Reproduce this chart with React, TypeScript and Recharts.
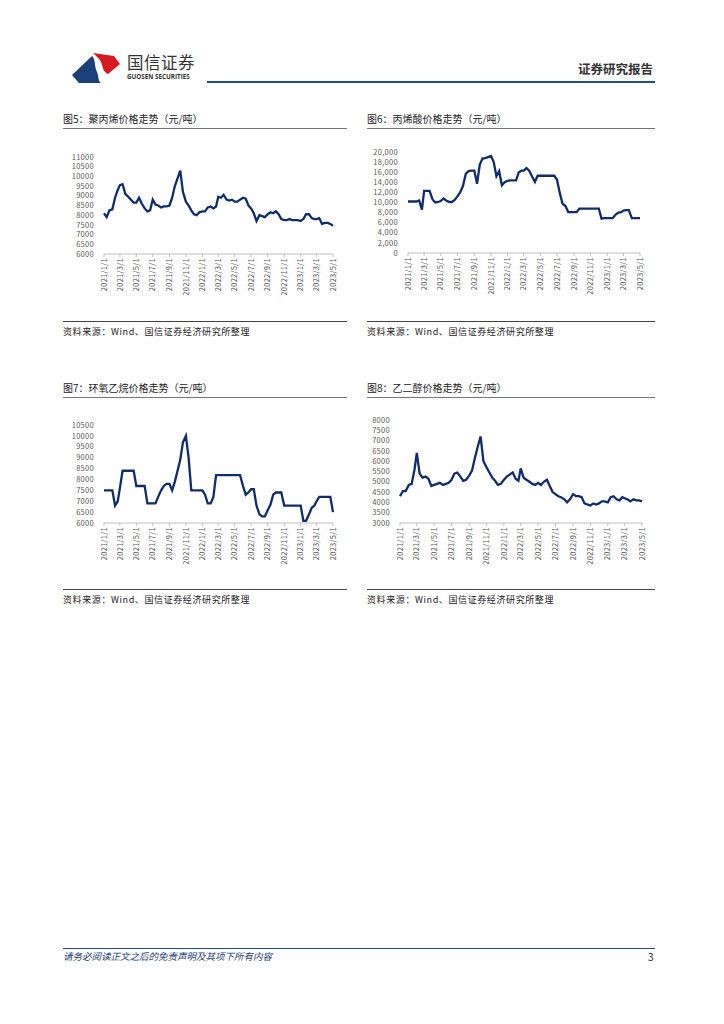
import React from "react";
import { LineChart, Line, XAxis, YAxis } from "recharts";

// x grid: 1st, 11th, 21st of each month, 2021/1 .. 2023/4, plus 2023/5/1
const tickDates = [
  "2021/1/1", "2021/3/1", "2021/5/1", "2021/7/1", "2021/9/1", "2021/11/1",
  "2022/1/1", "2022/3/1", "2022/5/1", "2022/7/1", "2022/9/1", "2022/11/1",
  "2023/1/1", "2023/3/1", "2023/5/1",
];

const ppValues = [
  8100, 7900, 8250, 8300, 8900, 9300, 9550, 9600, 9100, 8950,
  8800, 8650, 8650, 8900, 8600, 8350, 8200, 8250, 8800, 8550,
  8500, 8400, 8450, 8450, 8500, 8900, 9500, 9900, 10300, 9200,
  8700, 8500, 8250, 8050, 8000, 8150, 8200, 8200, 8400, 8450,
  8350, 8450, 8950, 8900, 9050, 8800, 8750, 8800, 8700, 8700,
  8800, 8900, 8850, 8500, 8350, 8100, 7700, 8000, 7950, 7900,
  8050, 8150, 8100, 8200, 8050, 7800, 7750, 7750, 7800, 7750,
  7750, 7750, 7700, 7800, 8050, 8050, 7850, 7800, 7800, 7850,
  7550, 7600, 7600, 7550, 7450,
];

const aaValues = [
  10200, 10200, 10200, 10200, 10400, 8600, 12300, 12300, 12300, 10600,
  10000, 10100, 10300, 10800, 10400, 10100, 10100, 10500, 11200, 12000,
  13200, 15700, 16200, 16300, 16300, 13700, 17500, 18700, 18800, 19000,
  19200, 18000, 15200, 16200, 13400, 14000, 14300, 14400, 14400, 14400,
  16000, 16300, 16300, 16800, 16300, 15100, 14100, 15300, 15300, 15300,
  15300, 15300, 15300, 15300, 14500, 11900, 9800, 9300, 8100, 8100,
  8100, 8100, 8800, 8800, 8800, 8800, 8800, 8800, 8800, 8800,
  6800, 6900, 6900, 6900, 6900, 7600, 8000, 8100, 8400, 8500,
  8500, 6900, 6900, 6900, 6900,
];

const eoValues = [
  7500, 7500, 7500, 7500, 6800, 7000, 7600, 8400, 8400, 8400,
  8400, 8400, 7700, 7700, 7700, 7700, 6900, 6900, 6900, 6900,
  7200, 7500, 7700, 7800, 7800, 7500, 7900, 8400, 8900, 9700,
  10000, 9000, 7500, 7500, 7500, 7500, 7500, 7300, 6900, 6900,
  7200, 8200, 8200, 8200, 8200, 8200, 8200, 8200, 8200, 8200,
  8200, 7700, 7300, 7400, 7550, 7550, 6800, 6400, 6300, 6300,
  6600, 6850, 7300, 7400, 7400, 7400, 6800, 6800, 6800, 6800,
  6800, 6800, 6800, 6100, 6100, 6400, 6700, 6800, 7000, 7200,
  7200, 7200, 7200, 7200, 6500,
];

const megValues = [
  4300, 4550, 4550, 4850, 4900, 5600, 6400, 5400, 5200, 5250,
  5150, 4800, 4850, 4900, 4950, 4850, 4900, 4950, 5100, 5400,
  5450, 5250, 5050, 5100, 5300, 5550, 6150, 6700, 7200, 6000,
  5700, 5450, 5200, 5050, 4850, 4900, 5100, 5250, 5350, 5450,
  5150, 5050, 5650, 5200, 5100, 5000, 4900, 4850, 4950, 4850,
  5000, 5100, 4800, 4500, 4400, 4300, 4250, 4150, 4000, 4150,
  4400, 4300, 4300, 4250, 3950, 3900, 3850, 3950, 3900, 3950,
  4050, 4050, 4000, 4250, 4300, 4150, 4100, 4250, 4200, 4150,
  4050, 4150, 4100, 4100, 4050,
];

const BASE = Date.UTC(2021, 0, 1);
const dayOf = (y: number, m: number, d: number) => (Date.UTC(y, m - 1, d) - BASE) / 86400000;
const parseDay = (s: string) => {
  const [y, m, d] = s.split("/").map(Number);
  return dayOf(y, m, d);
};

const gridDays: number[] = [];
for (let y = 2021; y <= 2023; y++) {
  for (let m = 1; m <= 12; m++) {
    if (y === 2023 && m > 4) break;
    gridDays.push(dayOf(y, m, 1), dayOf(y, m, 11), dayOf(y, m, 21));
  }
}
gridDays.push(dayOf(2023, 5, 1));

const xTicks = tickDates.map(parseDay);
const tickLabel = new Map(xTicks.map((d, i) => [d, tickDates[i]]));

const LINE = "#102c6c";
const FONT = "'Noto Sans CJK SC', 'Noto Sans', sans-serif";
const BLUE = "#1f4e8c";

const DateTick = (props: any) => {
  const { x, y, payload } = props;
  return (
    <text
      x={x}
      y={y}
      transform={`rotate(-90 ${x} ${y})`}
      textAnchor="end"
      dy="0.35em"
      fontSize={7.5}
      fill="#595959"
      fontFamily={FONT}
      letterSpacing={0.3}
    >
      {tickLabel.get(payload.value)}
    </text>
  );
};

type ChartProps = {
  values: number[];
  left: number;
  top: number;
  width: number;
  height: number;
  right: number;
  yWidth: number;
  yDomain: [number, number];
  yTicks: number[];
  yFmt?: (v: number) => string;
};

function PriceChart(p: ChartProps) {
  const data = gridDays.map((d, i) => ({ d, v: p.values[i] }));
  return (
    <div style={{ position: "absolute", left: p.left, top: p.top }}>
      <LineChart
        width={p.width}
        height={p.height}
        data={data}
        margin={{ top: 12, right: p.right, bottom: 0, left: 0 }}
      >
        <XAxis
          dataKey="d"
          type="number"
          domain={[0, 850]}
          ticks={xTicks}
          interval={0}
          height={41}
          tick={<DateTick />}
          tickSize={3}
          tickMargin={1}
          stroke="#bfbfbf"
        />
        <YAxis
          domain={p.yDomain}
          ticks={p.yTicks}
          interval={0}
          width={p.yWidth}
          axisLine={false}
          tickLine={false}
          tickMargin={4}
          tickFormatter={p.yFmt}
          tick={{ fontSize: 7.5, fill: "#595959", fontFamily: FONT, letterSpacing: 0.3 }}
        />
        <Line
          dataKey="v"
          stroke={LINE}
          strokeWidth={2.3}
          dot={false}
          isAnimationActive={false}
          type="linear"
        />
      </LineChart>
    </div>
  );
}

const range = (a: number, b: number, s: number) => {
  const out: number[] = [];
  for (let v = a; v <= b; v += s) out.push(v);
  return out;
};

function Panel({ x, y, title, w }: { x: number; y: number; title: string; w: number }) {
  return (
    <>
      <div style={{ position: "absolute", left: x, top: y, fontSize: 10, color: "#222", whiteSpace: "nowrap", lineHeight: "12px" }}>
        {title}
      </div>
      <div style={{ position: "absolute", left: x, top: y + 15, width: w, height: 1.3, background: "#777" }} />
    </>
  );
}

function Source({ x, y, w }: { x: number; y: number; w: number }) {
  return (
    <>
      <div style={{ position: "absolute", left: x, top: y, width: w, height: 1.3, background: "#444" }} />
      <div style={{ position: "absolute", left: x, top: y + 5, fontSize: 9, color: "#222", whiteSpace: "nowrap", lineHeight: "11px", letterSpacing: 0.6 }}>
        资料来源：Wind、国信证券经济研究所整理
      </div>
    </>
  );
}

export default function App() {
  return (
    <div style={{ position: "absolute", left: 0, top: 0, width: 724, height: 1024, background: "#fff", fontFamily: FONT }}>
      {/* header */}
      <svg style={{ position: "absolute", left: 70, top: 50 }} width={52} height={36}>
        <path d="M2,25 L22,6 C26,10 24,16 27,22 C29,27 28,31 31,33 L9,33 Z" fill="#1b3f78" />
        <path d="M23,3 L44,6 L50,14 L38,24 C33,22 33,17 31,12 C29,8 26,6 23,3 Z" fill="#d71920" />
      </svg>
      <div style={{ position: "absolute", left: 127, top: 53, fontSize: 16.5, color: "#333", letterSpacing: 0.5, lineHeight: "18px" }}>国信证券</div>
      <div style={{ position: "absolute", left: 127, top: 73, fontSize: 6.3, fontWeight: 700, color: "#333", lineHeight: "8px", fontFamily: "'Open Sans', sans-serif" }}>GUOSEN SECURITIES</div>
      <div style={{ position: "absolute", left: 578, top: 61, fontSize: 12.5, fontWeight: 700, color: "#333", lineHeight: "15px" }}>证券研究报告</div>
      <div style={{ position: "absolute", left: 207, top: 81, width: 448, height: 2, background: BLUE }} />

      <Panel x={63} y={113} title="图5：聚丙烯价格走势（元/吨）" w={284} />
      <Panel x={367} y={113} title="图6：丙烯酸价格走势（元/吨）" w={288} />
      <Panel x={63} y={382} title="图7：环氧乙烷价格走势（元/吨）" w={284} />
      <Panel x={367} y={382} title="图8：乙二醇价格走势（元/吨）" w={288} />

      <PriceChart values={ppValues} left={60} top={145} width={290} height={150} right={17} yWidth={44}
        yDomain={[6000, 11000]} yTicks={range(6000, 11000, 500)} />
      <PriceChart values={aaValues} left={360} top={140} width={300} height={154} right={20} yWidth={48}
        yDomain={[0, 20000]} yTicks={range(0, 20000, 2000)} yFmt={(v) => v.toLocaleString("en-US")} />
      <PriceChart values={eoValues} left={60} top={413} width={290} height={151} right={17} yWidth={44}
        yDomain={[6000, 10500]} yTicks={range(6000, 10500, 500)} />
      <PriceChart values={megValues} left={360} top={408} width={300} height={156} right={18} yWidth={40}
        yDomain={[3000, 8000]} yTicks={range(3000, 8000, 500)} />

      <Source x={63} y={321} w={284} />
      <Source x={367} y={321} w={288} />
      <Source x={63} y={589} w={284} />
      <Source x={367} y={589} w={288} />

      {/* footer */}
      <div style={{ position: "absolute", left: 63, top: 948, width: 592, height: 1, background: BLUE }} />
      <div style={{ position: "absolute", left: 63, top: 951, fontSize: 9.5, fontStyle: "italic", color: "#1f3f73", lineHeight: "11px" }}>
        请务必阅读正文之后的免责声明及其项下所有内容
      </div>
      <div style={{ position: "absolute", left: 648, top: 951, fontSize: 10, color: "#222", lineHeight: "12px" }}>3</div>
    </div>
  );
}
